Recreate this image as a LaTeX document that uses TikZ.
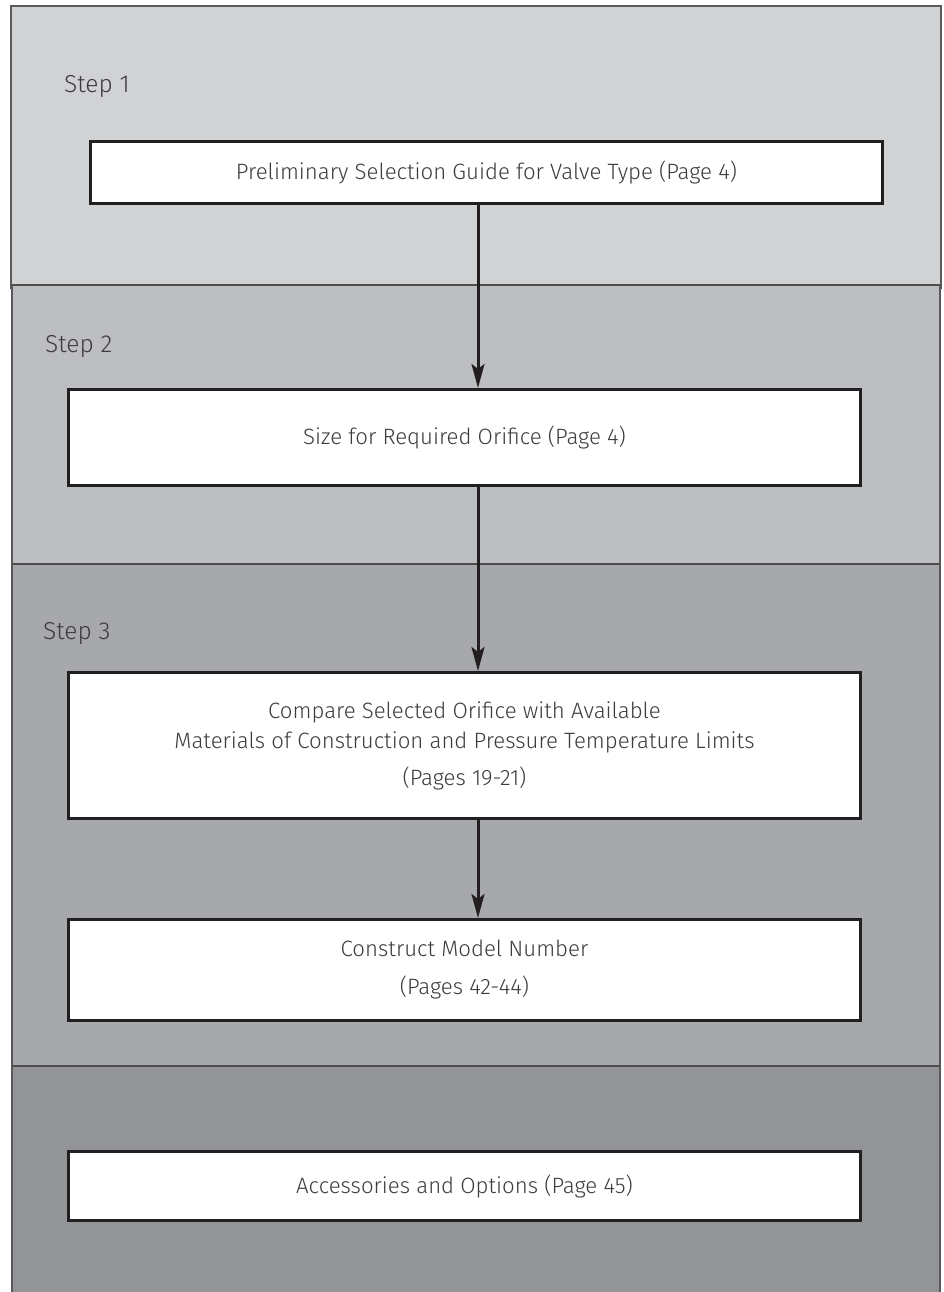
\documentclass[tikz,border=0pt]{standalone}
\usepackage{fontspec}
\setmainfont{Fira Sans}[UprightFont=* Light]
\usepackage{tikz}
\usetikzlibrary{arrows.meta}

\definecolor{bandA}{RGB}{209,210,212}
\definecolor{bandB}{RGB}{189,190,193}
\definecolor{bandC}{RGB}{167,168,171}
\definecolor{bandD}{RGB}{147,148,152}
\definecolor{rim}{RGB}{88,89,91}
\definecolor{ink}{RGB}{35,31,32}
\definecolor{txt}{RGB}{60,60,62}

\tikzset{
  band/.style={fill=#1, draw=rim, line width=1.5pt},
  guidebox/.style={draw=ink, fill=white, line width=3pt, minimum width=792pt,
    text=txt, align=center, font=\fontsize{22.2}{30}\selectfont, inner sep=0pt},
  steplabel/.style={anchor=west, text=txt, font=\fontsize{24.5}{28}\selectfont, inner sep=0pt},
  flow/.style={draw=ink, line width=3pt, -{Stealth[length=24pt, width=13pt, inset=5pt]}}
}

\begin{document}
\begin{tikzpicture}[x=1pt, y=-1pt]
		\useasboundingbox (0,0) rectangle (944,1292);
		% Background bands
		\draw[band=bandA] (11,6) rectangle (941,288);
		\draw[band=bandB] (12,285) rectangle (940,564);
		\draw[band=bandC] (12,564) rectangle (940,1066);
		\fill[bandD] (12,1066) rectangle (940,1294);
		\draw[rim, line width=1.5pt] (12,1294) -- (12,1066) -- (940,1066) -- (940,1294);
		\draw[ink!80, line width=1.5pt] (12,285) -- (940,285);
		\draw[ink!80, line width=1.5pt] (12,564) -- (940,564);
		\draw[ink!80, line width=2pt] (12,1066) -- (940,1066);
		% Step labels
		\node[steplabel] (step1) at (64,86) {Step 1};
		\node[steplabel] (step2) at (45,346) {Step 2};
		\node[steplabel] (step3) at (43,633) {Step 3};
		% Boxes
		\node[guidebox, minimum height=62pt] (prelim) at (486.5,172.5) {Preliminary Selection Guide for Valve Type (Page 4)};
		\node[guidebox, minimum height=96pt] (size) at (464.5,437.5) {Size for Required Orifice (Page 4)};
		\node[guidebox, minimum height=146pt] (compare) at (464.5,745.5) {Compare Selected Orifice with Available\\Materials of Construction and Pressure Temperature Limits\\[7pt](Pages 19-21)};
		\node[guidebox, minimum height=101pt] (model) at (464.5,970) {Construct Model Number\\[8pt](Pages 42-44)};
		\node[guidebox, minimum height=69pt] (access) at (464.5,1186) {Accessories and Options (Page 45)};
		% Arrows
		\coordinate (axis) at (478,0);
		\draw[flow] (prelim.south -| axis) -- (size.north -| axis);
		\draw[flow] (size.south -| axis) -- (compare.north -| axis);
		\draw[flow] (compare.south -| axis) -- (model.north -| axis);
	\end{tikzpicture}
\end{document}
